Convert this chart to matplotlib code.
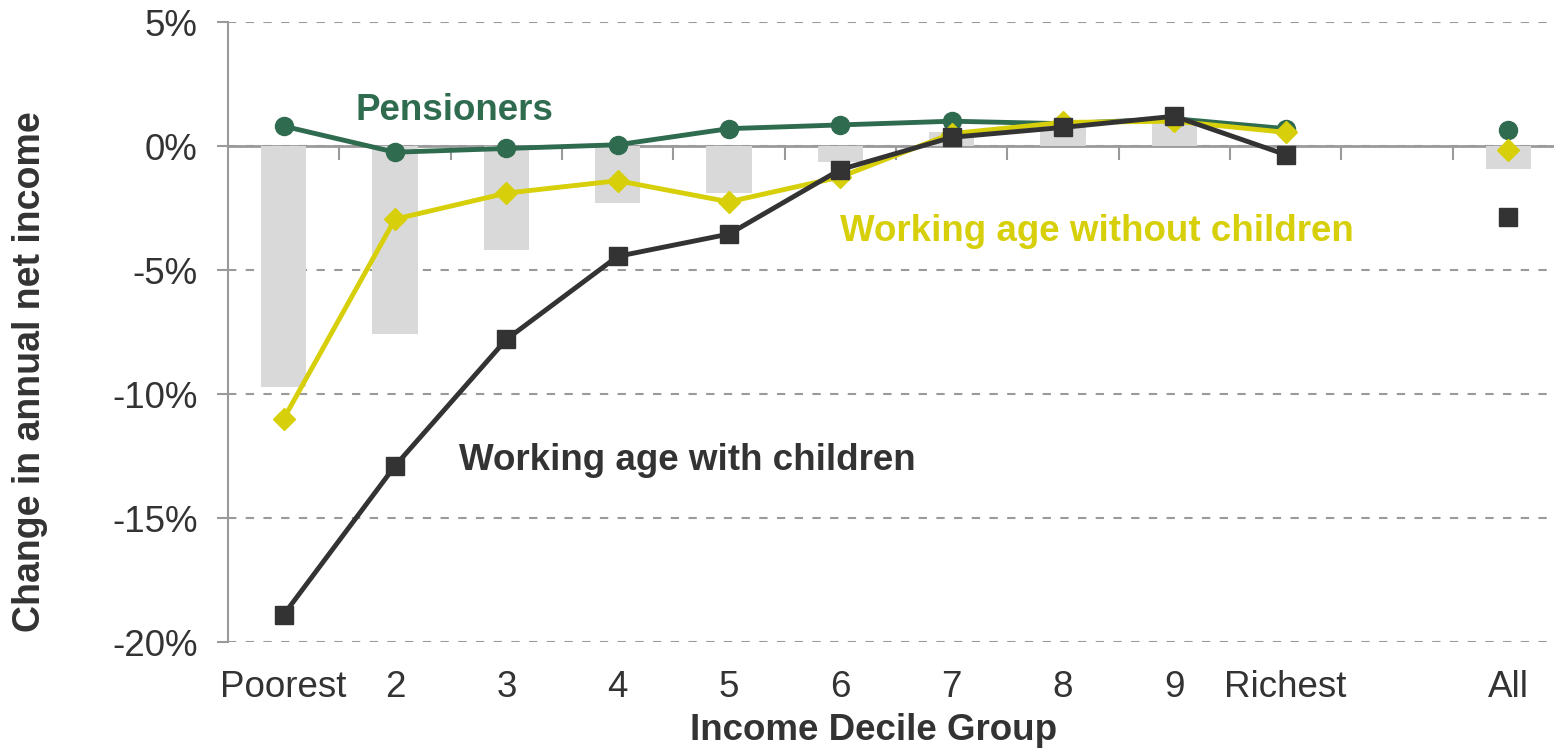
import numpy as np
import matplotlib.pyplot as plt

plt.rcParams['font.family'] = ['Liberation Sans', 'DejaVu Sans']

# categories (slot 10 is an empty gap before "All")
categories = ["Poorest", "2", "3", "4", "5", "6", "7", "8", "9", "Richest", "", "All"]

# overall change (grey bars), % of net income
overall = [-9.7, -7.6, -4.2, -2.3, -1.9, -0.65, 0.55, 0.8, 0.95, 0.0, np.nan, -0.93]

# household types, deciles 1..10 then "All"
pensioners = [0.8, -0.25, -0.1, 0.05, 0.7, 0.85, 1.0, 0.9, 1.1, 0.7, 0.65]
wa_no_kids = [-11.0, -2.95, -1.9, -1.4, -2.25, -1.25, 0.5, 0.95, 1.0, 0.55, -0.15]
wa_kids = [-18.9, -12.9, -7.8, -4.45, -3.55, -0.95, 0.35, 0.75, 1.2, -0.35, -2.85]

yticks = [5, 0, -5, -10, -15, -20]

col_pen = '#2f6b4f'
col_nokids = '#d6cf0a'
col_kids = '#333333'
col_bar = '#d9d9d9'
col_grid = '#9a9a9a'
col_text = '#333333'

W, H = 1554, 748
fig = plt.figure(figsize=(W / 100, H / 100), dpi=100)
left, right, top, bottom = 228, 1564, 22, 642
ax = fig.add_axes([left / W, 1 - bottom / H, (right - left) / W, (bottom - top) / H])

x = np.arange(len(categories))
ax.bar(x, overall, width=0.41, color=col_bar, zorder=1)

dec = x[:10]
all_pos = x[11]

# lines for deciles, lone marker for "All"
ax.plot(dec, pensioners[:10], color=col_pen, lw=3.5, marker='o', ms=13, zorder=3)
ax.plot([all_pos], [pensioners[10]], color=col_pen, marker='o', ms=13, ls='none', zorder=3)
ax.plot(dec, wa_no_kids[:10], color=col_nokids, lw=3.5, marker='D', ms=11.7, zorder=4)
ax.plot([all_pos], [wa_no_kids[10]], color=col_nokids, marker='D', ms=11.7, ls='none', zorder=4)
ax.plot(dec, wa_kids[:10], color=col_kids, lw=3.5, marker='s', ms=13.5, zorder=5)
ax.plot([all_pos], [wa_kids[10]], color=col_kids, marker='s', ms=13.5, ls='none', zorder=5)

ax.set_xlim(-0.5, len(categories) - 0.5)
ax.set_ylim(-20, 5)

# axes styling
for s in ['top', 'right', 'bottom']:
    ax.spines[s].set_visible(False)
ax.spines['left'].set_color(col_grid)
ax.spines['left'].set_linewidth(1.5)

ax.set_yticks(yticks)
ax.set_yticklabels([f"{v}%" for v in yticks])
ax.tick_params(axis='y', length=8, width=1.5, color=col_grid, labelsize=26.5,
               labelcolor=col_text, pad=14)
ax.set_xticks(x)
ax.set_xticklabels(categories)
ax.tick_params(axis='x', length=0, labelsize=26.5, labelcolor=col_text, pad=20)

ax.grid(axis='y', linestyle=(0, (4, 4.5)), color=col_grid, lw=1.5, zorder=0)
ax.set_axisbelow(True)

# zero line with category-boundary ticks pointing down
zero = ax.secondary_xaxis(20 / 25)
for s in zero.spines.values():
    s.set_color(col_grid)
    s.set_linewidth(2)
zero.set_xticks(np.arange(0.5, len(categories) - 0.5, 1.0))
zero.set_xticklabels([])
zero.tick_params(axis='x', length=10, width=1.5, color=col_grid, direction='in',
                 labeltop=False, labelbottom=False)

# series labels
ax.text(1.53, 1.45, "Pensioners", color=col_pen, fontsize=26.5, fontweight='bold',
        ha='center', va='center')
ax.text(7.3, -3.45, "Working age without children", color=col_nokids, fontsize=26.5,
        fontweight='bold', ha='center', va='center')
ax.text(3.63, -12.7, "Working age with children", color=col_kids, fontsize=26.5,
        fontweight='bold', ha='center', va='center')

fig.text(30 / W, 1 - 372 / H, "Change in annual net income", rotation=90, fontsize=27,
         fontweight='bold', color=col_text, ha='center', va='center')
fig.text(874 / W, 1 - 731 / H, "Income Decile Group", fontsize=26.5,
         fontweight='bold', color=col_text, ha='center', va='center')

fig.savefig("out.png", dpi=100)
